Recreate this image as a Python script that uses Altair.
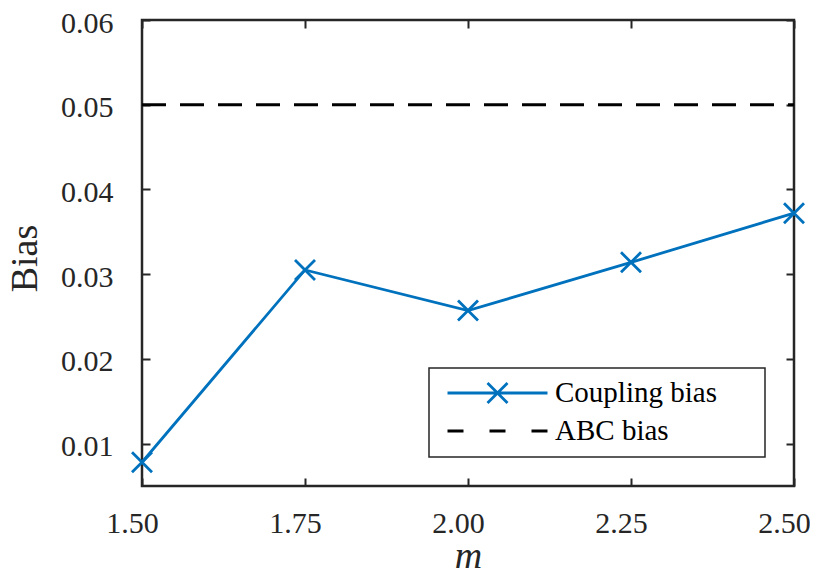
import altair as alt
import pandas as pd

m_values = [1.50, 1.75, 2.00, 2.25, 2.50]
coupling_bias = [0.0078, 0.0305, 0.0257, 0.0314, 0.0372]
abc_bias = 0.05
series_names = ["Coupling bias", "ABC bias"]
x_ticks = [1.50, 1.75, 2.00, 2.25, 2.50]
y_ticks = [0.01, 0.02, 0.03, 0.04, 0.05, 0.06]
x_domain = [1.5, 2.5]
y_domain = [0.005, 0.06]

BLUE = "#0072BD"
AX = "#262626"
FONT = "Liberation Serif"
W, H = 652, 466

df = pd.DataFrame({"m": m_values, "bias": coupling_bias, "series": series_names[0]})
df_abc = pd.DataFrame({"m": x_domain, "bias": [abc_bias, abc_bias], "series": series_names[1]})
df_all = pd.concat([df, df_abc], ignore_index=True)

x_enc = alt.X("m:Q", scale=alt.Scale(domain=x_domain, nice=False, zero=False),
              axis=alt.Axis(values=x_ticks, format=".2f", title="m", labelFlush=False,
                            labelOffset=-10,
                            titleFontStyle="italic", titleFontSize=38, titleFont=FONT,
                            titleFontWeight="normal", titleY=81, titleBaseline="alphabetic",
                            labelPadding=22, tickSize=0, domain=False,
                            grid=True, gridDash=[8, H - 16], gridColor=AX, gridWidth=2,
                            gridOpacity=1))
y_enc = alt.Y("bias:Q", scale=alt.Scale(domain=y_domain, nice=False, zero=False),
              axis=alt.Axis(values=y_ticks, format=".2f", title="Bias", labelFlush=False,
                            labelOffset=3,
                            titleFontSize=38, titleFont=FONT, titleFontWeight="normal",
                            titleX=-106, titleY=238, titleBaseline="alphabetic",
                            labelPadding=29, tickSize=0, domain=False,
                            grid=True, gridDash=[8, W - 16], gridColor=AX, gridWidth=2,
                            gridOpacity=1))

line = alt.Chart(df).mark_line(color=BLUE, strokeWidth=2.8).encode(x=x_enc, y=y_enc)
pts = alt.Chart(df).mark_point(
    shape="M-1,-1L1,1M-1,1L1,-1", size=400, filled=False, color=BLUE, strokeWidth=2.8, opacity=1
).encode(x="m:Q", y="bias:Q")
abc = alt.Chart(df_abc).mark_line(color="black", strokeWidth=2.8, strokeDash=[24, 14]).encode(
    x="m:Q", y="bias:Q")

legend_shapes = [
    "M-1,0L1,0M-0.2,-0.2L0.2,0.2M-0.2,0.2L0.2,-0.2",
    "M-1,0L-0.68,0M-0.16,0L0.16,0M0.68,0L1,0",
]
pad = "\u00a0" * 5 + "\u200b"
leg = alt.Chart(df_all).mark_point(opacity=0, filled=False).encode(
    x="m:Q", y="bias:Q",
    color=alt.Color("series:N", scale=alt.Scale(domain=series_names, range=[BLUE, "black"]),
                    legend=alt.Legend(title=None, orient="none", legendX=287, legendY=348,
                                      symbolSize=10000, clipHeight=28, rowPadding=9,
                                      symbolStrokeWidth=2.8, symbolOpacity=1,
                                      symbolOffset=6, labelOffset=6, labelLimit=0,
                                      labelExpr="datum.label + '" + pad + "'",
                                      labelFont=FONT, labelFontSize=29, labelColor="black",
                                      padding=11, strokeColor=AX, fillColor="white",
                                      )),
    shape=alt.Shape("series:N", scale=alt.Scale(domain=series_names, range=legend_shapes)),
)

chart = alt.layer(line, abc, pts, leg).properties(
    width=W, height=H,
    autosize=alt.AutoSizeParams(type="none"),
    padding={"left": 134, "top": 12, "right": 16, "bottom": 88},
).configure_view(stroke=AX, strokeWidth=2.5).configure_axis(
    labelFont=FONT, labelFontSize=30, labelColor=AX, titleColor=AX,
).configure_legend(strokeWidth=1.5)

chart.save("out.html", embed_options={"renderer": "svg", "actions": False})
